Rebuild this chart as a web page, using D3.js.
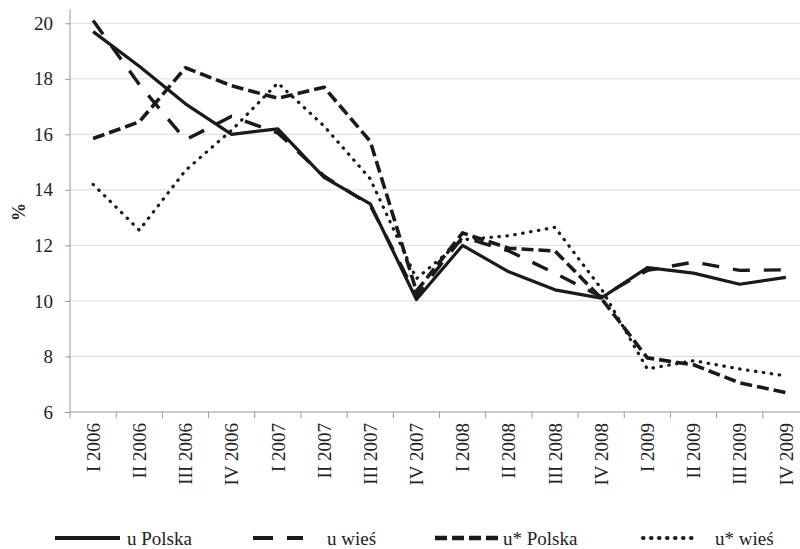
<!DOCTYPE html>
<html>
<head>
<meta charset="utf-8">
<script src="https://cdn.jsdelivr.net/npm/d3@7"></script>
<style>
  body { margin: 0; background: #fff; }
  text { font-family: "Liberation Serif", "Times New Roman", serif; fill: #222; }
</style>
</head>
<body>
<svg id="chart" width="800" height="549"></svg>
<script>
// Kategorie (kwartały)
const quarters = ['I 2006', 'II 2006', 'III 2006', 'IV 2006',
                  'I 2007', 'II 2007', 'III 2007', 'IV 2007',
                  'I 2008', 'II 2008', 'III 2008', 'IV 2008',
                  'I 2009', 'II 2009', 'III 2009', 'IV 2009'];

// Serie
const uPolska     = [19.7, 18.45, 17.1, 16.0, 16.2, 14.45, 13.5, 10.05, 12.0, 11.05, 10.4, 10.1, 11.2, 11.0, 10.6, 10.85];
const uWies       = [20.1, 17.8, 15.8, 16.65, 16.05, 14.5, 13.45, 10.2, 12.3, 11.8, 11.0, 10.15, 11.1, 11.4, 11.1, 11.12];
const uStarPolska = [15.85, 16.45, 18.4, 17.75, 17.3, 17.7, 15.75, 10.35, 12.45, 11.9, 11.8, 10.1, 7.95, 7.7, 7.05, 6.7];
const uStarWies   = [14.2, 12.55, 14.7, 16.15, 17.85, 16.3, 14.4, 10.8, 12.2, 12.35, 12.65, 10.45, 7.55, 7.85, 7.55, 7.3];

const yTicks = [6, 8, 10, 12, 14, 16, 18, 20];

const series = [
  { name: 'u Polska',  values: uPolska,     dash: null,        width: 3.2, cap: 'butt' },
  { name: 'u wieś',    values: uWies,       dash: '17,14',     width: 3.4, cap: 'butt' },
  { name: 'u* Polska', values: uStarPolska, dash: '12,5',      width: 3.6, cap: 'butt' },
  { name: 'u* wieś',   values: uStarWies,   dash: '0.5,7.5',   width: 3.2, cap: 'round' }
];

const svg = d3.select('#chart');
const plotLeft = 70, plotRight = 809, plotTop = 23.3, plotBottom = 412;

const x = d3.scaleBand().domain(quarters).range([plotLeft, plotRight]);
const y = d3.scaleLinear().domain([6, 20]).range([plotBottom, plotTop]);

// Siatka
svg.append('g')
  .selectAll('line')
  .data(yTicks.filter(d => d !== 6))
  .join('line')
  .attr('x1', plotLeft).attr('x2', 800)
  .attr('y1', d => y(d)).attr('y2', d => y(d))
  .attr('stroke', '#dcdcdc')
  .attr('stroke-width', 1);

// Oś Y
const yAxis = svg.append('g')
  .attr('transform', `translate(${plotLeft},0)`)
  .call(d3.axisLeft(y).tickValues(yTicks).tickSize(5).tickPadding(12).tickFormat(d3.format('d')));
yAxis.select('.domain').attr('stroke', '#999').attr('d', `M-0,${y(20) - 14}V${plotBottom}`);
yAxis.selectAll('.tick line').attr('stroke', '#999');
yAxis.selectAll('.tick text').attr('font-size', 19).attr('fill', '#222');

// Oś X
svg.append('line')
  .attr('x1', plotLeft).attr('x2', 800)
  .attr('y1', plotBottom).attr('y2', plotBottom)
  .attr('stroke', '#999');
svg.append('g')
  .selectAll('line')
  .data(quarters)
  .join('line')
  .attr('x1', d => x(d)).attr('x2', d => x(d))
  .attr('y1', plotBottom).attr('y2', plotBottom + 6)
  .attr('stroke', '#999');
svg.append('g')
  .selectAll('text')
  .data(quarters)
  .join('text')
  .attr('transform', d => `translate(${x(d) + x.bandwidth() / 2},${plotBottom + 11}) rotate(-90)`)
  .attr('text-anchor', 'end')
  .attr('dy', '0.35em')
  .attr('font-size', 19)
  .text(d => d);

// Etykieta osi Y
svg.append('text')
  .attr('transform', `translate(19,212) rotate(-90)`)
  .attr('text-anchor', 'middle')
  .attr('dy', '0.35em')
  .attr('font-size', 18)
  .attr('font-weight', 'bold')
  .text('%');

// Linie
const line = d3.line()
  .x((d, i) => x(quarters[i]) + x.bandwidth() / 2)
  .y(d => y(d));

series.forEach(s => {
  svg.append('path')
    .datum(s.values)
    .attr('d', line)
    .attr('fill', 'none')
    .attr('stroke', '#1a1a1a')
    .attr('stroke-width', s.width)
    .attr('stroke-linejoin', 'round')
    .attr('stroke-linecap', s.cap)
    .attr('stroke-dasharray', s.dash);
});

// Legenda
const legendX = [55, 253, 435, 643];
const legendLen = [65, 50, 65, 50];
const legendTextX = [127, 327, 503, 715];
const legend = svg.append('g');
series.forEach((s, i) => {
  legend.append('line')
    .attr('x1', legendX[i]).attr('x2', legendX[i] + legendLen[i])
    .attr('y1', 538).attr('y2', 538)
    .attr('stroke', '#1a1a1a')
    .attr('stroke-width', s.width + 0.8)
    .attr('stroke-linecap', s.cap)
    .attr('stroke-dasharray', i === 1 ? '20,14' : s.dash);
  legend.append('text')
    .attr('x', legendTextX[i])
    .attr('y', 545)
    .attr('font-size', 19)
    .text(s.name);
});
</script>
</body>
</html>
